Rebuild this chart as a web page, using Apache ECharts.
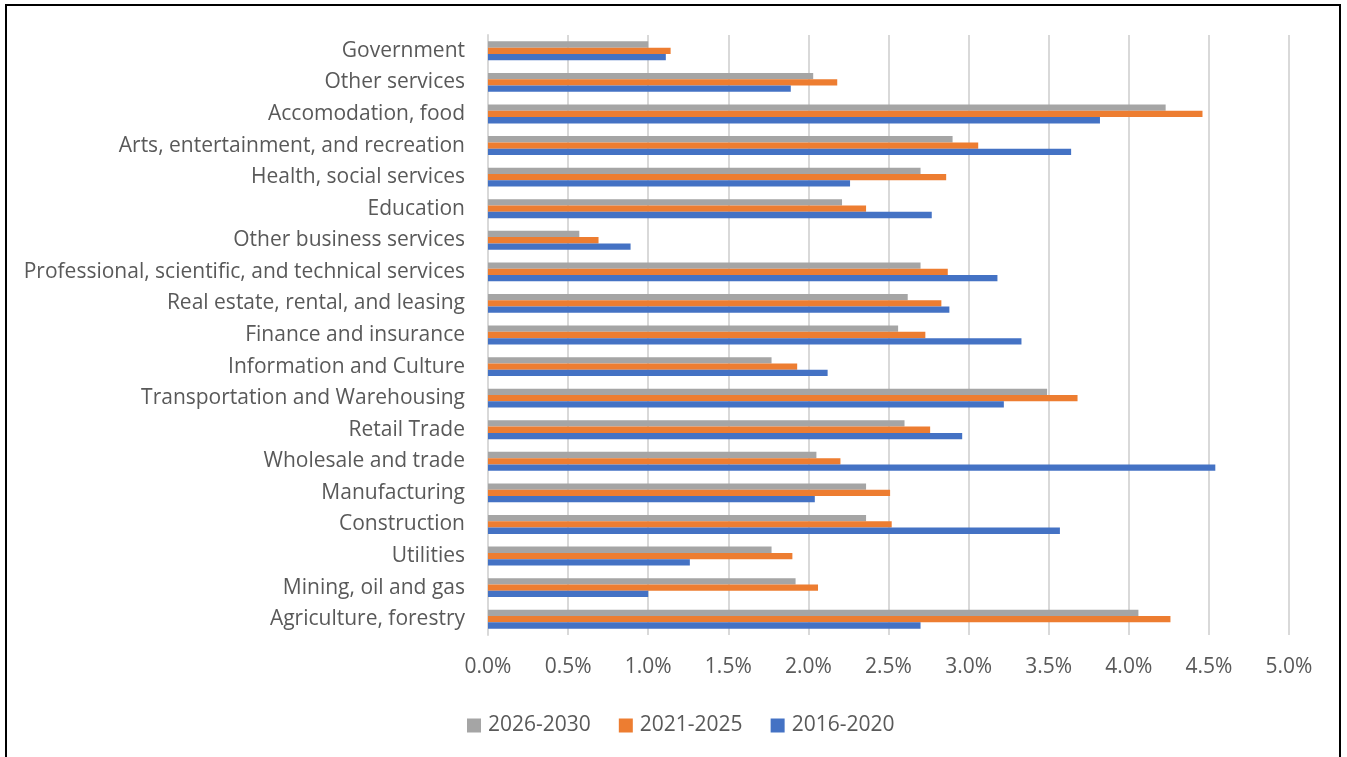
<!DOCTYPE html>
<html>
<head>
<meta charset="utf-8">
<title>Annual growth by industry</title>
<script src="https://cdn.jsdelivr.net/npm/echarts@6/dist/echarts.min.js"></script>
<style>
  html, body { margin: 0; padding: 0; background: #ffffff; }
  #chart { width: 1347px; height: 757px; }
</style>
</head>
<body>
<div id="chart"></div>
<script>
// Industries, listed bottom to top as they appear on the vertical axis
const industries = [
  'Agriculture, forestry',
  'Mining, oil and gas',
  'Utilities',
  'Construction',
  'Manufacturing',
  'Wholesale and trade',
  'Retail Trade',
  'Transportation and Warehousing',
  'Information and Culture',
  'Finance and insurance',
  'Real estate, rental, and leasing',
  'Professional, scientific, and technical services',
  'Other business services',
  'Education',
  'Health, social services',
  'Arts, entertainment, and recreation',
  'Accomodation, food',
  'Other services',
  'Government'
];

// Average annual growth rates, in percent, same order as industries
const growth2026to2030 = [4.06, 1.92, 1.77, 2.36, 2.36, 2.05, 2.60, 3.49, 1.77, 2.56, 2.62, 2.70, 0.57, 2.21, 2.70, 2.90, 4.23, 2.03, 1.00];
const growth2021to2025 = [4.26, 2.06, 1.90, 2.52, 2.51, 2.20, 2.76, 3.68, 1.93, 2.73, 2.83, 2.87, 0.69, 2.36, 2.86, 3.06, 4.46, 2.18, 1.14];
const growth2016to2020 = [2.70, 1.00, 1.26, 3.57, 2.04, 4.54, 2.96, 3.22, 2.12, 3.33, 2.88, 3.18, 0.89, 2.77, 2.26, 3.64, 3.82, 1.89, 1.11];

// Periods in the order the bars sit inside each band, top to bottom
const periodNames = ['2026-2030', '2021-2025', '2016-2020'];
const periodValues = [growth2026to2030, growth2021to2025, growth2016to2020];
const periodColors = ['#A5A5A5', '#ED7D31', '#4472C4'];

const textColor = '#595959';
const fontFamily = '"Open Sans", "Noto Sans", sans-serif';
const fontSize = 21;

const chart = echarts.init(document.getElementById('chart'), null, { renderer: 'canvas' });

chart.setOption({
  animation: false,
  backgroundColor: '#ffffff',
  textStyle: { fontFamily: fontFamily, color: textColor },
  graphic: [{
    type: 'rect',
    shape: { x: 6, y: 5, width: 1334, height: 800 },
    style: { fill: 'none', stroke: '#000000', lineWidth: 2 },
    silent: true,
    z: 100
  }],
  grid: { left: 488, right: 58, top: 35, bottom: 122, containLabel: false },
  legend: {
    data: periodNames,
    left: 462,
    top: 710,
    itemWidth: 14,
    itemHeight: 14,
    itemGap: 28,
    icon: 'rect',
    textStyle: { fontFamily: fontFamily, fontSize: fontSize, color: textColor, padding: [0, 0, 0, 2] }
  },
  xAxis: {
    type: 'value',
    min: 0,
    max: 5,
    interval: 0.5,
    axisLine: { show: false },
    axisTick: { show: false },
    splitLine: { show: true, lineStyle: { color: '#D9D9D9', width: 2 } },
    axisLabel: {
      margin: 22,
      fontSize: fontSize,
      color: textColor,
      fontFamily: fontFamily,
      formatter: v => v.toFixed(1) + '%'
    }
  },
  yAxis: {
    type: 'category',
    data: industries,
    axisLine: { show: true, lineStyle: { color: '#D9D9D9', width: 2 } },
    axisTick: { show: false },
    splitLine: { show: false },
    axisLabel: { margin: 23, fontSize: fontSize, color: textColor, fontFamily: fontFamily }
  },
  series: periodNames.map((name, i) => ({
    name: name,
    type: 'bar',
    data: periodValues[i],
    barWidth: 6.3,
    barGap: '0%',
    itemStyle: { color: periodColors[i] }
  }))
});
</script>
</body>
</html>
